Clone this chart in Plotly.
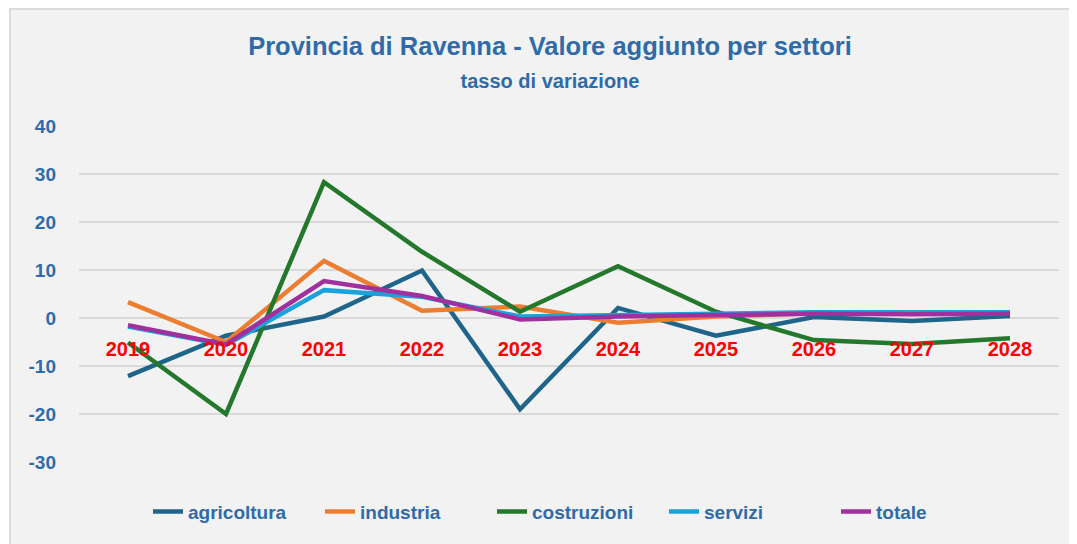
import plotly.graph_objects as go

years = ["2019", "2020", "2021", "2022", "2023", "2024", "2025", "2026", "2027", "2028"]

agricoltura = [-12.1, -3.7, 0.3, 9.9, -19.0, 2.1, -3.7, 0.2, -0.6, 0.4]
industria = [3.3, -5.0, 11.9, 1.5, 2.4, -1.0, 0.3, 1.0, 1.0, 1.0]
costruzioni = [-5.1, -20.0, 28.3, 13.8, 1.3, 10.8, 1.3, -4.6, -5.4, -4.2]
servizi = [-1.8, -5.6, 5.8, 4.4, 0.3, 0.5, 0.9, 1.2, 1.2, 1.2]
totale = [-1.5, -5.5, 7.7, 4.6, -0.3, 0.3, 0.6, 0.9, 0.8, 0.9]

y_ticks = [-30, -20, -10, 0, 10, 20, 30, 40]
y_labels = ["-30", "-20", "-10", "0", "10", "20", "30", "40"]

series = [
    ("agricoltura", agricoltura, "#1F6589"),
    ("industria", industria, "#ED7D31"),
    ("costruzioni", costruzioni, "#23782C"),
    ("servizi", servizi, "#1AA2DB"),
    ("totale", totale, "#A0309E"),
]

y_min, y_max = -30, 40
blue = "#2E6BA8"

fig = go.Figure()
for name, vals, color in series:
    fig.add_trace(go.Scatter(
        x=years, y=vals, name=name, mode="lines",
        line=dict(color=color, width=4.5),
    ))

# page body adds an 8px offset, so the figure is a bit smaller than the window
W, H = 1069, 536
ml, mt = 71, 118
pw, ph = 980, 336
mr, mb = W - ml - pw, H - mt - ph

# grey chart-area box (Excel style) drawn below everything
fig.add_shape(
    type="rect", xref="paper", yref="paper", layer="below",
    x0=(2 - ml) / pw, x1=(W + 5 - ml) / pw,
    y0=-(mb + 5) / ph, y1=1 + (mt - 1) / ph,
    fillcolor="#F2F2F2", line=dict(color="#DCDCDC", width=2),
)

fig.update_layout(
    width=W, height=H,
    margin=dict(l=ml, r=mr, t=mt, b=mb, pad=0, autoexpand=False),
    paper_bgcolor="white",
    plot_bgcolor="rgba(0,0,0,0)",
    title=dict(
        text="<b>Provincia di Ravenna - Valore aggiunto per settori</b><br>"
             "<span style='font-size:20px'><b>tasso di variazione</b></span>",
        x=0.4806, xref="paper", xanchor="center", y=0.912, yanchor="top",
        font=dict(family="Liberation Sans, Arial, sans-serif", size=25.5, color=blue),
    ),
    legend=dict(
        orientation="h", x=(140 - ml) / pw, xanchor="left", y=-0.091, yanchor="top",
        font=dict(family="Liberation Sans, Arial, sans-serif", size=19, color=blue, weight="bold"),
        entrywidth=127, entrywidthmode="pixels",
        bgcolor="rgba(0,0,0,0)",
        traceorder="normal",
    ),
    xaxis=dict(
        type="category", range=[-0.5, 9.5], automargin=False,
        showgrid=False, showline=False, zeroline=False,
        anchor="free", position=(0 - y_min) / (y_max - y_min),
        ticks="", ticklabelstandoff=17,
        tickfont=dict(family="Liberation Sans, Arial, sans-serif", size=20, color="#FF0000", weight="bold"),
    ),
    yaxis=dict(
        range=[y_min, y_max], tickvals=y_ticks, ticktext=y_labels, automargin=False,
        showline=False, zeroline=False,
        gridcolor="#D9D9D9", gridwidth=1.5, ticks="", ticklabelstandoff=22,
        tickfont=dict(family="Liberation Sans, Arial, sans-serif", size=19, color=blue, weight="bold"),
    ),
)

fig.write_html("out.html")
